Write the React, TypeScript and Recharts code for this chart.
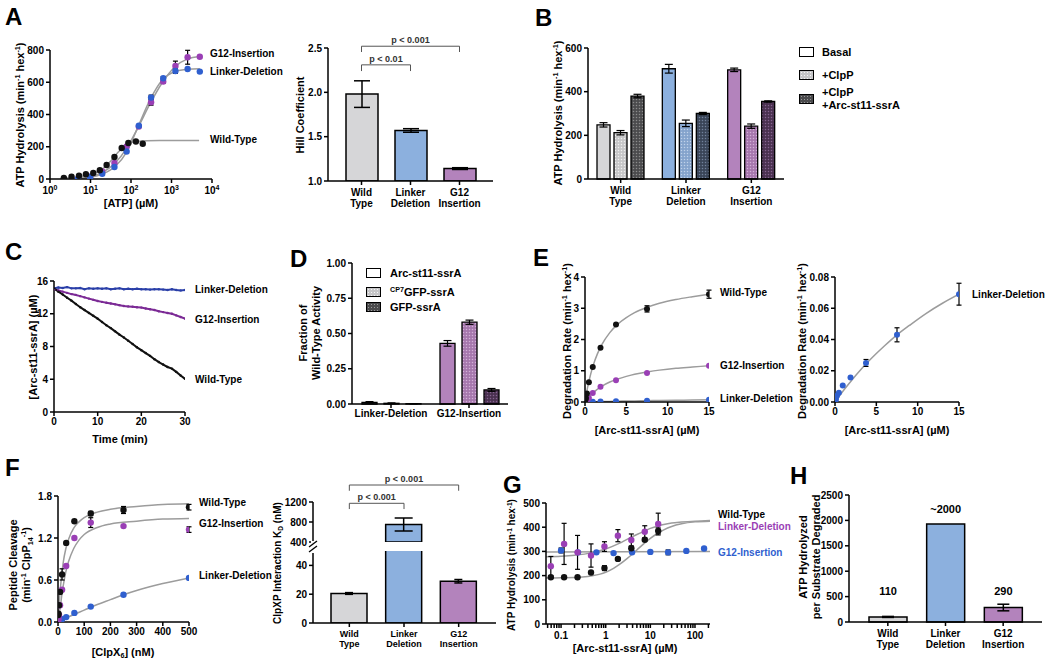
import React from 'react';
import {
  ComposedChart, Bar, Line, Scatter, XAxis, YAxis, ErrorBar, Cell, ReferenceLine, LabelList,
} from 'recharts';

// ---------- A (left): ATP hydrolysis vs [ATP] ----------
const atpWtConc = [2.2, 3.4, 5.2, 7.7, 11.7, 17, 25, 39, 59, 86, 132, 195];
const atpWtRate = [6, 14, 20, 29, 37, 54, 87, 136, 192, 223, 233, 219];
const atpConc = [4.9, 9.8, 19.5, 39, 78, 156, 313, 625, 1250, 2500, 5000];
const atpG12Rate = [0, 15, 47, 99, 202, 326, 476, 604, 701, 755, 758];
const atpG12Err = [0, 0, 0, 0, 0, 0, 18, 10, 30, 43, 0];
const atpLinkerRate = [0, 12, 33, 74, 171, 330, 505, 625, 670, 682, 666];
const atpLinkerErr = [0, 0, 0, 0, 0, 0, 15, 10, 15, 0, 0];
const atpWtFitX = [1.8, 3, 5, 10, 15, 20, 25, 30, 40, 50, 60, 80, 100, 150, 250, 500, 4800];
const atpWtFitY = [3, 7, 13, 30, 45, 62, 85, 105, 142, 170, 190, 215, 226, 234, 237, 238, 238];
const atpFitX = [4, 10, 20, 40, 80, 150, 300, 600, 1200, 2500, 5000];
const atpG12FitY = [3, 14, 42, 98, 195, 320, 470, 600, 695, 745, 760];
const atpLinkerFitY = [2, 11, 32, 76, 172, 325, 495, 615, 665, 680, 683];

// ---------- A (right): Hill coefficient ----------
const variants = ['Wild Type', 'Linker Deletion', 'G12 Insertion'];
const hillVals = [1.98, 1.57, 1.14];
const hillErr = [0.15, 0.02, 0.01];

// ---------- B ----------
const bBasal = [248, 505, 500];
const bBasalErr = [10, 20, 8];
const bClpP = [212, 255, 242];
const bClpPErr = [10, 15, 10];
const bArc = [380, 300, 355];
const bArcErr = [8, 5, 3];

// ---------- C: substrate depletion ----------
const cTime = [0, 1, 2, 3, 4, 5, 6, 7, 8, 9, 10, 11, 12, 13, 14, 15, 16, 17, 18, 19, 20, 21, 22, 23, 24, 25, 26, 27, 28, 29, 30];
const cWt = [15.1, 14.7, 14.35, 13.95, 13.6, 13.2, 12.8, 12.45, 12.1, 11.75, 11.4, 11.0, 10.6, 10.25, 9.85, 9.45, 9.1, 8.7, 8.3, 7.9, 7.55, 7.2, 6.85, 6.45, 6.1, 5.8, 5.5, 5.3, 4.9, 4.45, 4.05];
const cG12 = [15.0, 14.85, 14.7, 14.55, 14.4, 14.3, 14.15, 14.0, 13.85, 13.7, 13.55, 13.45, 13.35, 13.25, 13.15, 13.05, 12.95, 12.9, 12.85, 12.8, 12.75, 12.65, 12.55, 12.45, 12.3, 12.2, 12.1, 12.0, 11.8, 11.6, 11.4];
const cLinker = [15.1, 15.2, 15.15, 15.25, 15.1, 15.1, 15.15, 15.0, 15.1, 15.05, 15.1, 15.05, 15.1, 15.0, 15.05, 15.1, 15.0, 15.05, 15.0, 15.05, 15.0, 15.0, 14.95, 15.0, 15.0, 14.95, 14.9, 15.0, 14.9, 14.85, 14.9];

// ---------- D ----------
const dCats = ['Linker-Deletion', 'G12-Insertion'];
const dArc = [0.012, 0.43];
const dArcErr = [0.005, 0.02];
const dCp7 = [0.005, 0.58];
const dCp7Err = [0.003, 0.015];
const dGfp = [0.002, 0.1];
const dGfpErr = [0.001, 0.01];

// ---------- E ----------
const eConc = [0.059, 0.117, 0.234, 0.469, 0.938, 1.875, 3.75, 7.5, 15];
const eWt = [0.07, 0.13, 0.27, 0.63, 1.12, 1.74, 2.48, 2.98, 3.45];
const eWtErr = [0, 0, 0, 0, 0, 0, 0, 0.1, 0.13];
const eG12 = [0.01, 0.03, 0.06, 0.13, 0.29, 0.49, 0.7, 0.93, 1.16];
const eLinker = [0.001, 0.002, 0.004, 0.006, 0.0105, 0.0157, 0.025, 0.043, 0.069];
const eLinkerErr = [0, 0, 0, 0, 0, 0, 0.0022, 0.0045, 0.007];
const eWtFitX = [0, 0.25, 0.5, 1, 1.5, 2, 3, 4, 5, 6, 7.5, 9, 11, 13, 15];
const eWtFitY = [0, 0.38, 0.69, 1.18, 1.54, 1.82, 2.22, 2.5, 2.7, 2.86, 3.03, 3.16, 3.28, 3.37, 3.45];
const eG12FitX = [0, 0.5, 1, 2, 3, 4, 5, 6, 7.5, 9, 11, 13, 15];
const eG12FitY = [0, 0.17, 0.3, 0.5, 0.64, 0.74, 0.82, 0.89, 0.96, 1.02, 1.08, 1.12, 1.16];
const eLinkerFitX = [0, 1, 2, 3, 4, 5, 6, 7.5, 9, 11, 13, 15];
const eLinkerFitY = [0, 0.0072, 0.0138, 0.02, 0.0257, 0.031, 0.036, 0.043, 0.049, 0.0566, 0.0632, 0.069];

// ---------- F (left): peptide cleavage ----------
const fConc = [0.98, 1.95, 3.9, 7.8, 15.6, 31.25, 62.5, 125, 250, 500];
const fWt = [0.1, 0.12, 0.24, 0.43, 0.68, 1.13, 1.44, 1.55, 1.6, 1.64];
const fWtErr = [0, 0, 0, 0, 0.08, 0, 0, 0.03, 0.05, 0.04];
const fG12 = [0.02, 0.05, 0.1, 0.24, 0.46, 0.8, 1.2, 1.42, 1.37, 1.32];
const fG12Err = [0, 0, 0, 0, 0, 0, 0, 0.07, 0, 0.04];
const fLinker = [0.005, 0.01, 0.015, 0.025, 0.04, 0.07, 0.13, 0.22, 0.39, 0.63];
const fFitX = [0, 5, 10, 15, 20, 30, 40, 60, 80, 100, 150, 200, 300, 400, 500];
const fWtFitY = [0, 0.3, 0.52, 0.7, 0.85, 1.05, 1.18, 1.34, 1.43, 1.49, 1.57, 1.61, 1.65, 1.68, 1.69];
const fG12FitY = [0, 0.12, 0.25, 0.4, 0.52, 0.72, 0.86, 1.05, 1.17, 1.25, 1.35, 1.4, 1.44, 1.47, 1.48];
const fLinkerFitX = [0, 25, 50, 100, 150, 200, 250, 300, 400, 500];
const fLinkerFitY = [0, 0.045, 0.09, 0.17, 0.25, 0.32, 0.39, 0.45, 0.55, 0.63];

// ---------- F (right): KD ----------
const kdVals = [20.5, 750, 29];
const kdErr = [0.6, 130, 1.2];

// ---------- G ----------
const gConc = [0.059, 0.117, 0.234, 0.469, 0.938, 1.875, 3.75, 7.5, 15];
const gWt = [193, 193, 193, 213, 231, 269, 313, 348, 385];
const gWtErr = [5, 0, 0, 0, 10, 5, 8, 5, 12];
const gPurple = [239, 331, 296, 283, 320, 365, 347, 381, 413];
const gPurpleErr = [40, 85, 70, 48, 20, 25, 25, 25, 45];
const gBlueConc = [0.1, 0.24, 0.62, 1.5, 3.9, 10, 25, 64, 160];
const gBlue = [304, 296, 296, 293, 296, 298, 296, 302, 312];
const gBlueErr = [10, 0, 0, 0, 0, 0, 10, 0, 0];
const gWtFitX = [0.046, 0.1, 0.2, 0.3, 0.5, 0.75, 1, 1.5, 2, 3, 4, 5, 7.5, 10, 15, 20, 30, 50, 100, 217];
const gWtFitY = [190, 191, 192, 194, 199, 206, 214, 230, 245, 270, 290, 306, 335, 354, 376, 389, 403, 414, 422, 425];
const gPurpleFitX = [0.046, 0.1, 0.2, 0.5, 1, 2, 3, 5, 7.5, 10, 15, 20, 30, 50, 100, 217];
const gPurpleFitY = [278, 280, 284, 295, 310, 333, 350, 370, 385, 395, 405, 411, 417, 421, 425, 428];
const gBlueFitX = [0.046, 217];
const gBlueFitY = [298, 300];
const gMajor = [0.1, 1, 10, 100];
const gMajorLabels = ['0.1', '1', '10', '100'];
const gTicks = [0.05, 0.06, 0.07, 0.08, 0.09, 0.1, 0.2, 0.3, 0.4, 0.5, 0.6, 0.7, 0.8, 0.9, 1, 2, 3, 4, 5, 6, 7, 8, 9, 10, 20, 30, 40, 50, 60, 70, 80, 90, 100, 200];

// ---------- H ----------
const hVals = [100, 1930, 285];
const hErr = [10, 0, 65];
const hLabels = ['110', '~2000', '290'];

// ---------- styling ----------
const FONT = '"Liberation Sans", Arial, sans-serif';
const BLACK = '#111111';
const PURPLE = '#9a3fb5';
const BLUE = '#2f5fcf';
const C_PURPLE = '#7b2a95';
const C_BLUE = '#2a3fa8';
const FIT = '#9c9c9c';
const BAR_COLORS = ['#d6d6d8', '#8cb0de', '#b383bc'];
const PAT_LIGHT = [['#c6c6c8', '#f0f0f0'], ['#84a3cc', '#c0d2ea'], ['#a677ad', '#d3b0d8']];
const PAT_DARK = [['#4b4b4d', '#8c8c8c'], ['#3a4558', '#72829c'], ['#4a3150', '#856490']];
const AXIS = { stroke: '#000', strokeWidth: 1.5 };
const TICK = { fontSize: 10, fill: '#000', fontWeight: 700 };
const ax = { axisLine: AXIS, tickLine: AXIS, tick: TICK, tickSize: 4, tickMargin: 2, interval: 0 as const };
const YW = 40;

const pts = (xs: number[], ys: number[], es?: number[]) =>
  xs.map((x, i) => ({ x, y: ys[i], e: es ? es[i] : 0 }));

type Box = { l: number; t: number; r: number; b: number };

function Frame({ box, padT = 10, padR = 10, padB = 24, mb = 0, data, barGap, children }: {
  box: Box; padT?: number; padR?: number; padB?: number; mb?: number; data?: any[]; barGap?: number; children: React.ReactNode;
}) {
  const width = box.r - box.l + YW + padR;
  const height = box.b - box.t + padT + padB + mb;
  return (
    <div style={{ position: 'absolute', left: box.l - YW, top: box.t - padT }}>
      <ComposedChart width={width} height={height} data={data} barGap={barGap}
        margin={{ top: padT, right: padR, bottom: mb, left: 0 }}>
        {children}
      </ComposedChart>
    </div>
  );
}

const dot = (color: string, r = 3.2) => (p: any) => <circle cx={p.cx} cy={p.cy} r={r} fill={color} />;

function TwoLineTick(props: any) {
  const { x, y, payload, fs = 10 } = props;
  const words = String(payload.value).split(' ');
  return (
    <text x={x} y={y} textAnchor="middle" fontSize={fs} fontWeight={700} fill="#000">
      {words.map((w, i) => <tspan key={i} x={x} dy={i === 0 ? '0.85em' : '1.15em'}>{w}</tspan>)}
    </text>
  );
}

function PowTick(props: any) {
  const { x, y, payload } = props;
  const e = Math.round(Math.log10(payload.value));
  return (
    <text x={x} y={y} dy={9} textAnchor="middle" fontSize={10} fontWeight={700} fill="#000">
      10<tspan dy={-4} fontSize={7}>{e}</tspan>
    </text>
  );
}

function GTick(props: any) {
  const { x, y, payload } = props;
  const k = gMajor.findIndex(m => Math.abs(m - payload.value) < 1e-9);
  if (k < 0) return null;
  return <text x={x} y={y} dy={9} textAnchor="middle" fontSize={10} fontWeight={700} fill="#000">{gMajorLabels[k]}</text>;
}

function HLabel(props: any) {
  const { x, y, width, height, value } = props;
  const ty = Math.min(Number(y) - 14, Number(y) + Number(height) - 30);
  return <text x={Number(x) + Number(width) / 2} y={ty} textAnchor="middle" dominantBaseline="middle" fontSize={11} fontWeight={700} fill="#000">{value}</text>;
}

const pattern = (id: string, bg: string, fg: string) => (
  <pattern key={id} id={id} width={3} height={3} patternUnits="userSpaceOnUse">
    <rect width={3} height={3} fill={bg} />
    <circle cx={1.5} cy={1.5} r={0.75} fill={fg} />
  </pattern>
);

const Sup = ({ c }: { c: string }) => <span style={{ fontSize: '0.65em', verticalAlign: '0.55em', lineHeight: 0 }}>{c}</span>;
const Sub = ({ c }: { c: string }) => <span style={{ fontSize: '0.65em', verticalAlign: '-0.3em', lineHeight: 0 }}>{c}</span>;

function Note({ x, y, children, size = 10, color = '#000', center = false }: any) {
  return (
    <div style={{ position: 'absolute', left: x, top: y, transform: center ? 'translate(-50%,-50%)' : 'translateY(-50%)', whiteSpace: 'nowrap', fontSize: size, color, lineHeight: 1.15 }}>
      {children}
    </div>
  );
}

function YTitle({ x, y, children, size = 11 }: any) {
  return (
    <div style={{ position: 'absolute', left: x, top: y, transform: 'translate(-50%,-50%) rotate(-90deg)', whiteSpace: 'nowrap', fontSize: size, lineHeight: 1.15, textAlign: 'center' }}>
      {children}
    </div>
  );
}

function Swatch({ x, y, bg, fg }: { x: number; y: number; bg: string; fg?: string }) {
  const background = fg ? `radial-gradient(${fg} 30%, transparent 36%) 0 0/3px 3px, ${bg}` : bg;
  return <div style={{ position: 'absolute', left: x, top: y - 5, width: 13, height: 8, border: '1.3px solid #000', background }} />;
}

const rate = <>ATP Hydrolysis (min<Sup c="-1" /> hex<Sup c="-1" />)</>;
const degRate = <>Degradation Rate (min<Sup c="-1" /> hex<Sup c="-1" />)</>;
const arcConc = <>[Arc-st11-ssrA] (µM)</>;

const bracket = (a: string, b: string, y: number, drop: number, text: string) => [
  <ReferenceLine key={text + y + 'h'} segment={[{ x: a, y }, { x: b, y }]} ifOverflow="visible" stroke="#555" strokeWidth={1}
    label={{ value: text, position: 'top', offset: 3, fontSize: 9, fill: '#333' }} />,
  <ReferenceLine key={text + y + 'a'} segment={[{ x: a, y }, { x: a, y: y - drop }]} ifOverflow="visible" stroke="#555" strokeWidth={1} />,
  <ReferenceLine key={text + y + 'b'} segment={[{ x: b, y }, { x: b, y: y - drop }]} ifOverflow="visible" stroke="#555" strokeWidth={1} />,
];

export default function App() {
  const hillRows = variants.map((name, i) => ({ name, v: hillVals[i], e: hillErr[i] }));
  const bRows = variants.map((name, i) => ({
    name, basal: bBasal[i], basalE: bBasalErr[i], clpP: bClpP[i], clpPE: bClpPErr[i], arc: bArc[i], arcE: bArcErr[i],
  }));
  const dRows = dCats.map((name, i) => ({
    name, arc: dArc[i], arcE: dArcErr[i], cp7: dCp7[i], cp7E: dCp7Err[i], gfp: dGfp[i], gfpE: dGfpErr[i],
  }));
  const kdUpper = variants.map((name, i) => ({ name, v: kdVals[i] >= 400 ? kdVals[i] : null, e: kdVals[i] >= 400 ? kdErr[i] : 0 }));
  const kdLower = variants.map((name, i) => ({ name, v: kdVals[i], e: kdVals[i] >= 400 ? 0 : kdErr[i] }));
  const hRows = variants.map((name, i) => ({ name, v: hVals[i], e: hErr[i], label: hLabels[i] }));

  return (
    <div style={{ position: 'absolute', left: 0, top: 0, width: 1050, height: 663, background: '#fff', fontFamily: FONT, fontWeight: 700, overflow: 'hidden' }}>
      {/* ---------- A left ---------- */}
      <Frame box={{ l: 50, t: 50, r: 212, b: 179 }}>
        <XAxis dataKey="x" type="number" scale="log" domain={[1, 10000]} ticks={[1, 10, 100, 1000, 10000]} allowDataOverflow {...ax} tick={<PowTick />} height={24} />
        <YAxis dataKey="y" type="number" domain={[0, 800]} ticks={[0, 200, 400, 600, 800]} allowDataOverflow width={YW} {...ax} />
        <Line data={pts(atpWtFitX, atpWtFitY)} dataKey="y" type="monotone" stroke={FIT} strokeWidth={1.5} dot={false} isAnimationActive={false} />
        <Line data={pts(atpFitX, atpG12FitY)} dataKey="y" type="monotone" stroke={FIT} strokeWidth={1.5} dot={false} isAnimationActive={false} />
        <Line data={pts(atpFitX, atpLinkerFitY)} dataKey="y" type="monotone" stroke={FIT} strokeWidth={1.5} dot={false} isAnimationActive={false} />
        <Scatter data={pts(atpConc, atpG12Rate, atpG12Err)} shape={dot(PURPLE)} isAnimationActive={false}>
          <ErrorBar dataKey="e" direction="y" width={2.5} stroke="#000" strokeWidth={1.2} />
        </Scatter>
        <Scatter data={pts(atpConc, atpLinkerRate, atpLinkerErr)} shape={dot(BLUE)} isAnimationActive={false}>
          <ErrorBar dataKey="e" direction="y" width={2.5} stroke="#000" strokeWidth={1.2} />
        </Scatter>
        <Scatter data={pts(atpWtConc, atpWtRate)} shape={dot(BLACK)} isAnimationActive={false} />
      </Frame>

      {/* ---------- A right ---------- */}
      <Frame box={{ l: 328, t: 48, r: 493, b: 181 }} padT={40} padB={32} data={hillRows}>
        <XAxis dataKey="name" type="category" padding={{ left: 9, right: 9 }} {...ax} tick={<TwoLineTick />} height={32} />
        <YAxis type="number" domain={[1, 2.5]} ticks={[1, 1.5, 2, 2.5]} tickFormatter={(v: number) => v.toFixed(1)} allowDataOverflow width={YW} {...ax} />
        <Bar dataKey="v" barSize={32} stroke="#000" strokeWidth={1.5} isAnimationActive={false}>
          {hillRows.map((r, i) => <Cell key={r.name} fill={BAR_COLORS[i]} />)}
          <ErrorBar dataKey="e" direction="y" width={8} stroke="#000" strokeWidth={1.5} />
        </Bar>
        {bracket('Wild Type', 'Linker Deletion', 2.31, 0.07, 'p < 0.01')}
        {bracket('Wild Type', 'G12 Insertion', 2.52, 0.065, 'p < 0.001')}
      </Frame>

      {/* ---------- B ---------- */}
      <Frame box={{ l: 588, t: 48, r: 784, b: 179 }} padB={30} data={bRows} barGap={4}>
        <defs>
          {PAT_LIGHT.map((p, i) => pattern(`bl${i}`, p[0], p[1]))}
          {PAT_DARK.map((p, i) => pattern(`bd${i}`, p[0], p[1]))}
        </defs>
        <XAxis dataKey="name" type="category" {...ax} tick={<TwoLineTick />} height={30} />
        <YAxis type="number" domain={[0, 600]} ticks={[0, 200, 400, 600]} width={YW} {...ax} />
        <Bar dataKey="basal" barSize={13} stroke="#000" strokeWidth={1.3} isAnimationActive={false}>
          {bRows.map((r, i) => <Cell key={r.name} fill={BAR_COLORS[i]} />)}
          <ErrorBar dataKey="basalE" direction="y" width={4} stroke="#000" strokeWidth={1.2} />
        </Bar>
        <Bar dataKey="clpP" barSize={13} stroke="#000" strokeWidth={1.3} isAnimationActive={false}>
          {bRows.map((r, i) => <Cell key={r.name} fill={`url(#bl${i})`} />)}
          <ErrorBar dataKey="clpPE" direction="y" width={4} stroke="#000" strokeWidth={1.2} />
        </Bar>
        <Bar dataKey="arc" barSize={13} stroke="#000" strokeWidth={1.3} isAnimationActive={false}>
          {bRows.map((r, i) => <Cell key={r.name} fill={`url(#bd${i})`} />)}
          <ErrorBar dataKey="arcE" direction="y" width={4} stroke="#000" strokeWidth={1.2} />
        </Bar>
      </Frame>

      {/* ---------- C ---------- */}
      <Frame box={{ l: 54, t: 281, r: 185, b: 412 }}>
        <XAxis dataKey="x" type="number" domain={[0, 30]} ticks={[0, 10, 20, 30]} allowDataOverflow {...ax} height={24} />
        <YAxis dataKey="y" type="number" domain={[0, 16]} ticks={[0, 4, 8, 12, 16]} allowDataOverflow width={YW} {...ax} />
        <Line data={pts(cTime, cLinker)} dataKey="y" type="linear" stroke={C_BLUE} strokeWidth={2} dot={{ r: 1.2, fill: C_BLUE, strokeWidth: 0 }} isAnimationActive={false} />
        <Line data={pts(cTime, cG12)} dataKey="y" type="linear" stroke={C_PURPLE} strokeWidth={2} dot={{ r: 1.2, fill: C_PURPLE, strokeWidth: 0 }} isAnimationActive={false} />
        <Line data={pts(cTime, cWt)} dataKey="y" type="linear" stroke={BLACK} strokeWidth={2} dot={{ r: 1.2, fill: BLACK, strokeWidth: 0 }} isAnimationActive={false} />
      </Frame>

      {/* ---------- D ---------- */}
      <Frame box={{ l: 352, t: 263, r: 508, b: 404 }} data={dRows} barGap={7}>
        <defs>
          {PAT_LIGHT.map((p, i) => pattern(`dl${i}`, p[0], p[1]))}
          {PAT_DARK.map((p, i) => pattern(`dd${i}`, p[0], p[1]))}
        </defs>
        <XAxis dataKey="name" type="category" {...ax} height={24} />
        <YAxis type="number" domain={[0, 1]} ticks={[0, 0.25, 0.5, 0.75, 1]} tickFormatter={(v: number) => v.toFixed(2)} width={YW} {...ax} />
        <Bar dataKey="arc" barSize={15} stroke="#000" strokeWidth={1.3} isAnimationActive={false}>
          {dRows.map((r, i) => <Cell key={r.name} fill={BAR_COLORS[i + 1]} />)}
          <ErrorBar dataKey="arcE" direction="y" width={4} stroke="#000" strokeWidth={1.2} />
        </Bar>
        <Bar dataKey="cp7" barSize={15} stroke="#000" strokeWidth={1.3} isAnimationActive={false}>
          {dRows.map((r, i) => <Cell key={r.name} fill={`url(#dl${i + 1})`} />)}
          <ErrorBar dataKey="cp7E" direction="y" width={4} stroke="#000" strokeWidth={1.2} />
        </Bar>
        <Bar dataKey="gfp" barSize={15} stroke="#000" strokeWidth={1.3} isAnimationActive={false}>
          {dRows.map((r, i) => <Cell key={r.name} fill={`url(#dd${i + 1})`} />)}
          <ErrorBar dataKey="gfpE" direction="y" width={4} stroke="#000" strokeWidth={1.2} />
        </Bar>
      </Frame>

      {/* ---------- E left ---------- */}
      <Frame box={{ l: 585, t: 277, r: 709, b: 402 }} padB={20}>
        <XAxis dataKey="x" type="number" domain={[0, 15]} ticks={[0, 5, 10, 15]} allowDataOverflow {...ax} height={20} />
        <YAxis dataKey="y" type="number" domain={[0, 4]} ticks={[0, 1, 2, 3, 4]} allowDataOverflow width={YW} {...ax} />
        <Line data={pts(eWtFitX, eWtFitY)} dataKey="y" type="monotone" stroke={FIT} strokeWidth={1.5} dot={false} isAnimationActive={false} />
        <Line data={pts(eG12FitX, eG12FitY)} dataKey="y" type="monotone" stroke={FIT} strokeWidth={1.5} dot={false} isAnimationActive={false} />
        <Line data={pts(eLinkerFitX, eLinkerFitY)} dataKey="y" type="monotone" stroke={FIT} strokeWidth={1.5} dot={false} isAnimationActive={false} />
        <Scatter data={pts(eConc, eLinker)} shape={dot(BLUE, 3)} isAnimationActive={false} />
        <Scatter data={pts(eConc, eG12)} shape={dot(PURPLE, 3)} isAnimationActive={false} />
        <Scatter data={pts(eConc, eWt, eWtErr)} shape={dot(BLACK, 3)} isAnimationActive={false}>
          <ErrorBar dataKey="e" direction="y" width={2.5} stroke="#000" strokeWidth={1.2} />
        </Scatter>
      </Frame>

      {/* ---------- E right ---------- */}
      <Frame box={{ l: 835, t: 277, r: 959, b: 402 }} padB={20}>
        <XAxis dataKey="x" type="number" domain={[0, 15]} ticks={[0, 5, 10, 15]} allowDataOverflow {...ax} height={20} />
        <YAxis dataKey="y" type="number" domain={[0, 0.08]} ticks={[0, 0.02, 0.04, 0.06, 0.08]} tickFormatter={(v: number) => v.toFixed(2)} allowDataOverflow width={YW} {...ax} />
        <Line data={pts(eLinkerFitX, eLinkerFitY)} dataKey="y" type="monotone" stroke={FIT} strokeWidth={1.5} dot={false} isAnimationActive={false} />
        <Scatter data={pts(eConc, eLinker, eLinkerErr)} shape={dot(BLUE, 3)} isAnimationActive={false}>
          <ErrorBar dataKey="e" direction="y" width={2.5} stroke="#000" strokeWidth={1.2} />
        </Scatter>
      </Frame>

      {/* ---------- F left ---------- */}
      <Frame box={{ l: 58, t: 496, r: 189, b: 622 }}>
        <XAxis dataKey="x" type="number" domain={[0, 500]} ticks={[0, 100, 200, 300, 400, 500]} allowDataOverflow {...ax} height={24} />
        <YAxis dataKey="y" type="number" domain={[0, 1.8]} ticks={[0, 0.6, 1.2, 1.8]} tickFormatter={(v: number) => v.toFixed(1)} allowDataOverflow width={YW} {...ax} />
        <Line data={pts(fFitX, fWtFitY)} dataKey="y" type="monotone" stroke={FIT} strokeWidth={1.5} dot={false} isAnimationActive={false} />
        <Line data={pts(fFitX, fG12FitY)} dataKey="y" type="monotone" stroke={FIT} strokeWidth={1.5} dot={false} isAnimationActive={false} />
        <Line data={pts(fLinkerFitX, fLinkerFitY)} dataKey="y" type="monotone" stroke={FIT} strokeWidth={1.5} dot={false} isAnimationActive={false} />
        <Scatter data={pts(fConc, fLinker)} shape={dot(BLUE)} isAnimationActive={false} />
        <Scatter data={pts(fConc, fG12, fG12Err)} shape={dot(PURPLE)} isAnimationActive={false}>
          <ErrorBar dataKey="e" direction="y" width={2.5} stroke="#000" strokeWidth={1.2} />
        </Scatter>
        <Scatter data={pts(fConc, fWt, fWtErr)} shape={dot(BLACK)} isAnimationActive={false}>
          <ErrorBar dataKey="e" direction="y" width={2.5} stroke="#000" strokeWidth={1.2} />
        </Scatter>
      </Frame>

      {/* ---------- F right (broken axis: upper part) ---------- */}
      <Frame box={{ l: 313, t: 502, r: 496, b: 542 }} padT={36} padB={0} mb={7} data={kdUpper}>
        <XAxis dataKey="name" type="category" padding={{ left: 9, right: 10 }} hide height={0} />
        <YAxis type="number" domain={[400, 1200]} ticks={[400, 800, 1200]} allowDataOverflow width={YW} {...ax} />
        <Bar dataKey="v" barSize={36} stroke="#000" strokeWidth={1.5} isAnimationActive={false}>
          {kdUpper.map((r, i) => <Cell key={r.name} fill={BAR_COLORS[i]} />)}
          <ErrorBar dataKey="e" direction="y" width={9} stroke="#000" strokeWidth={1.5} />
        </Bar>
        {bracket('Wild Type', 'Linker Deletion', 1174, 115, 'p < 0.001')}
        {bracket('Wild Type', 'G12 Insertion', 1540, 115, 'p < 0.001')}
      </Frame>
      {/* ---------- F right (lower part) ---------- */}
      <Frame box={{ l: 313, t: 551, r: 496, b: 623 }} padT={0} padB={32} data={kdLower}>
        <XAxis dataKey="name" type="category" padding={{ left: 9, right: 10 }} {...ax} tick={<TwoLineTick fs={9} />} height={32} />
        <YAxis type="number" domain={[0, 50]} ticks={[0, 20, 40]} allowDataOverflow width={YW} {...ax} />
        <Bar dataKey="v" barSize={36} stroke="#000" strokeWidth={1.5} isAnimationActive={false}>
          {kdLower.map((r, i) => <Cell key={r.name} fill={BAR_COLORS[i]} />)}
          <ErrorBar dataKey="e" direction="y" width={4} stroke="#000" strokeWidth={1.5} />
        </Bar>
      </Frame>
      <svg style={{ position: 'absolute', left: 306, top: 539 }} width={16} height={16}>
        <rect x={5} y={2} width={4} height={12} fill="#fff" />
        <line x1={3} y1={8} x2={11} y2={2} stroke="#000" strokeWidth={1.3} />
        <line x1={3} y1={13} x2={11} y2={7} stroke="#000" strokeWidth={1.3} />
      </svg>

      {/* ---------- G ---------- */}
      <Frame box={{ l: 546, t: 503, r: 710, b: 624 }}>
        <XAxis dataKey="x" type="number" scale="log" domain={[0.046, 217]} ticks={gTicks} allowDataOverflow {...ax} tick={<GTick />} height={24} />
        <YAxis dataKey="y" type="number" domain={[0, 500]} ticks={[0, 100, 200, 300, 400, 500]} allowDataOverflow width={YW} {...ax} />
        <Line data={pts(gWtFitX, gWtFitY)} dataKey="y" type="monotone" stroke={FIT} strokeWidth={1.5} dot={false} isAnimationActive={false} />
        <Line data={pts(gPurpleFitX, gPurpleFitY)} dataKey="y" type="monotone" stroke={FIT} strokeWidth={1.5} dot={false} isAnimationActive={false} />
        <Line data={pts(gBlueFitX, gBlueFitY)} dataKey="y" type="linear" stroke={FIT} strokeWidth={1.5} dot={false} isAnimationActive={false} />
        <Scatter data={pts(gBlueConc, gBlue, gBlueErr)} shape={dot(BLUE)} isAnimationActive={false}>
          <ErrorBar dataKey="e" direction="y" width={2.5} stroke="#000" strokeWidth={1.2} />
        </Scatter>
        <Scatter data={pts(gConc, gPurple, gPurpleErr)} shape={dot(PURPLE)} isAnimationActive={false}>
          <ErrorBar dataKey="e" direction="y" width={2.5} stroke="#000" strokeWidth={1.2} />
        </Scatter>
        <Scatter data={pts(gConc, gWt, gWtErr)} shape={dot(BLACK)} isAnimationActive={false}>
          <ErrorBar dataKey="e" direction="y" width={2.5} stroke="#000" strokeWidth={1.2} />
        </Scatter>
      </Frame>

      {/* ---------- H ---------- */}
      <Frame box={{ l: 849, t: 495, r: 1042, b: 622 }} padR={6} padB={32} data={hRows}>
        <XAxis dataKey="name" type="category" padding={{ left: 10, right: 10 }} {...ax} tick={<TwoLineTick />} height={32} />
        <YAxis type="number" domain={[0, 2500]} ticks={[0, 500, 1000, 1500, 2000, 2500]} width={YW} {...ax} />
        <Bar dataKey="v" barSize={38} stroke="#000" strokeWidth={1.5} isAnimationActive={false}>
          {hRows.map((r, i) => <Cell key={r.name} fill={BAR_COLORS[i]} />)}
          <ErrorBar dataKey="e" direction="y" width={6} stroke="#000" strokeWidth={1.5} />
          <LabelList dataKey="label" content={HLabel} />
        </Bar>
      </Frame>

      {/* ---------- panel letters ---------- */}
      <Note x={5} y={17} size={24}>A</Note>
      <Note x={535} y={18} size={24}>B</Note>
      <Note x={5} y={252} size={24}>C</Note>
      <Note x={290} y={259} size={24}>D</Note>
      <Note x={533} y={258} size={24}>E</Note>
      <Note x={5} y={468} size={24}>F</Note>
      <Note x={503} y={485} size={24}>G</Note>
      <Note x={790} y={476} size={24}>H</Note>

      {/* ---------- series labels ---------- */}
      <Note x={210} y={54}>G12-Insertion</Note>
      <Note x={210} y={72}>Linker-Deletion</Note>
      <Note x={210} y={140}>Wild-Type</Note>
      <Note x={195} y={290}>Linker-Deletion</Note>
      <Note x={195} y={320}>G12-Insertion</Note>
      <Note x={195} y={380}>Wild-Type</Note>
      <Note x={720} y={293}>Wild-Type</Note>
      <Note x={720} y={366}>G12-Insertion</Note>
      <Note x={720} y={399}>Linker-Deletion</Note>
      <Note x={972} y={295}>Linker-Deletion</Note>
      <Note x={199} y={503}>Wild-Type</Note>
      <Note x={199} y={524}>G12-Insertion</Note>
      <Note x={199} y={576}>Linker-Deletion</Note>
      <Note x={718} y={515}>Wild-Type</Note>
      <Note x={718} y={527} color={PURPLE}>Linker-Deletion</Note>
      <Note x={718} y={553} color={BLUE}>G12-Insertion</Note>

      {/* ---------- legends ---------- */}
      <Swatch x={799} y={52} bg="#fff" />
      <Note x={822} y={52} size={11}>Basal</Note>
      <Swatch x={799} y={75} bg="#c6c6c8" fg="#f4f4f4" />
      <Note x={822} y={75} size={11}>+ClpP</Note>
      <Swatch x={799} y={99} bg="#4b4b4d" fg="#9a9a9a" />
      <Note x={822} y={99} size={11}><div>+ClpP</div><div>+Arc-st11-ssrA</div></Note>

      <Swatch x={366} y={273} bg="#fff" />
      <Note x={390} y={273} size={11}>Arc-st11-ssrA</Note>
      <Swatch x={366} y={292} bg="#c6c6c8" fg="#f4f4f4" />
      <Note x={390} y={292} size={11}><Sup c="CP7" />GFP-ssrA</Note>
      <Swatch x={366} y={307} bg="#4b4b4d" fg="#9a9a9a" />
      <Note x={390} y={307} size={11}>GFP-ssrA</Note>

      {/* ---------- axis titles ---------- */}
      <YTitle x={20} y={115}>{rate}</YTitle>
      <Note x={131} y={203} size={11} center>[ATP] (µM)</Note>
      <YTitle x={300} y={115}>Hill Coefficient</YTitle>
      <YTitle x={558} y={113}>{rate}</YTitle>
      <YTitle x={33} y={347}>{arcConc}</YTitle>
      <Note x={120} y={439} size={11} center>Time (min)</Note>
      <YTitle x={310} y={333}><div>Fraction of</div><div>Wild-Type Activity</div></YTitle>
      <YTitle x={567} y={341}>{degRate}</YTitle>
      <Note x={647} y={430} size={11} center>{arcConc}</Note>
      <YTitle x={802} y={341}>{degRate}</YTitle>
      <Note x={897} y={430} size={11} center>{arcConc}</Note>
      <YTitle x={20} y={565}><div>Peptide Cleavage</div><div>(min<Sup c="-1" /> ClpP<Sub c="14" /><Sup c="-1" />)</div></YTitle>
      <Note x={123} y={652} size={11} center>[ClpX<Sub c="6" />] (nM)</Note>
      <YTitle x={278} y={563} size={10}>ClpXP Interaction K<Sub c="D" /> (nM)</YTitle>
      <YTitle x={512} y={565} size={10}>{rate}</YTitle>
      <Note x={625} y={648} size={11} center>{arcConc}</Note>
      <YTitle x={810} y={557}><div>ATP Hydrolyzed</div><div>per Substrate Degraded</div></YTitle>
    </div>
  );
}
